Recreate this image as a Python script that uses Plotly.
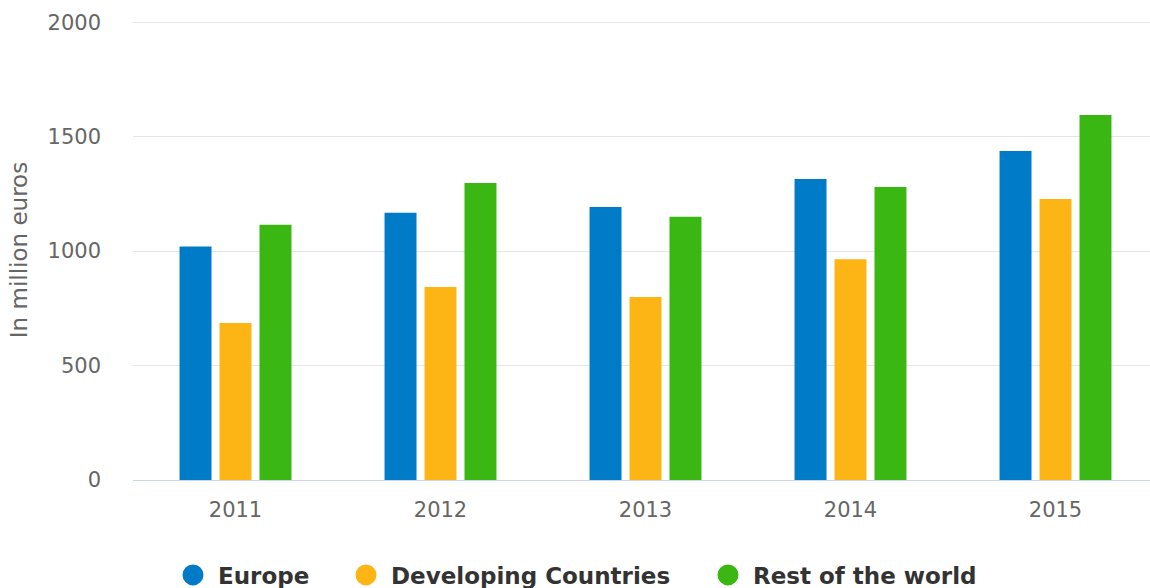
import plotly.graph_objects as go

years = ["2011", "2012", "2013", "2014", "2015"]
europe = [1020, 1168, 1193, 1315, 1438]
developing = [686, 843, 800, 965, 1228]
rest_world = [1115, 1298, 1150, 1280, 1595]

series_names = ["Europe", "Developing Countries", "Rest of the world"]
series_values = [europe, developing, rest_world]
colors = ["#007BC7", "#FDB515", "#3AB713"]

L, R, T, B = 133, 0, 20, 108
W, H = 1158, 588
pw, ph = W - L - R, H - T - B
IW = 40

fig = go.Figure()
for name, vals, col in zip(series_names, series_values, colors):
    fig.add_trace(go.Bar(x=years, y=vals, name=name, marker_color=col,
                         marker_line_width=0, showlegend=False))

legend_ids = ["legend", "legend2", "legend3"]
circle_px = [193, 366, 728]
legend_cfg = {}
for name, col, lid, cx in zip(series_names, colors, legend_ids, circle_px):
    fig.add_trace(go.Scatter(x=[None], y=[None], mode="markers", name=name, legend=lid,
                             marker=dict(symbol="circle", size=16, color=col,
                                         line=dict(width=5, color=col))))
    legend_cfg[lid] = dict(orientation="h", x=(cx - 20 - (IW - 30) / 2 - L) / pw, xanchor="left",
                           y=(T + ph - 575) / ph, yanchor="middle",
                           font=dict(size=23, color="#333333", family="DejaVu Sans", weight="bold"),
                           itemwidth=IW, bgcolor="rgba(0,0,0,0)")

fig.update_layout(
    width=W, height=H,
    margin=dict(l=L, r=R, t=T, b=B, autoexpand=False),
    plot_bgcolor="white", paper_bgcolor="white",
    barmode="group", bargap=0.415, bargroupgap=0.2,
    font=dict(family="DejaVu Sans", color="#666666"),
    xaxis=dict(showgrid=False, showline=True, linecolor="#ccd6eb", linewidth=1,
               tickfont=dict(size=21, color="#666666"), ticks="", ticklabelstandoff=11,
               automargin=False),
    yaxis=dict(range=[0, 2010], tickvals=[0, 500, 1000, 1500, 2000],
               showgrid=True, gridcolor="#e6e6e6", gridwidth=1, zeroline=False,
               tickfont=dict(size=21, color="#666666"), ticklabelstandoff=31,
               automargin=False,
               title=dict(text="In million euros", font=dict(size=23, color="#666666"), standoff=13)),
    **legend_cfg,
)
fig.write_html("out.html", config={"displayModeBar": False},
               post_script="document.body.style.margin='0';document.body.style.overflow='hidden';")
